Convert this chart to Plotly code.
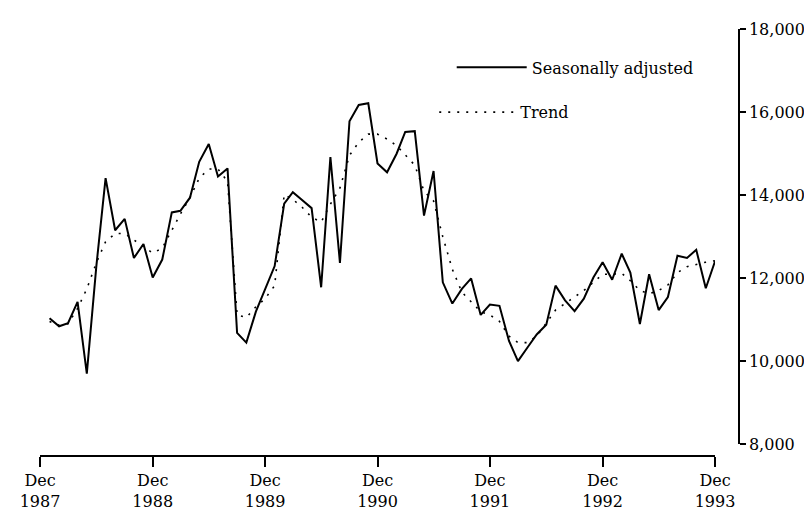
import pandas as pd
import plotly.graph_objects as go

# Monthly data, Jan 1988 - Dec 1993
months = pd.date_range("1988-01-01", periods=72, freq="MS")

seasonally_adjusted = [
    11035, 10840, 10917, 11427, 9700, 12290, 14407, 13153, 13427, 12486,
    12823, 12015, 12447, 13583, 13623, 13937, 14800, 15231, 14447, 14643,
    10682, 10447, 11192, 11741, 12290, 13796, 14071, 13874, 13686, 11780,
    14918, 12368, 15780, 16172, 16212, 14761, 14549, 14996, 15522, 15540,
    13506, 14580, 11898, 11388, 11741, 11992, 11114, 11365, 11333, 10486,
    10000, 10329, 10643, 10878, 11819, 11466, 11207, 11506, 12015, 12384,
    11961, 12588, 12134, 10894, 12094, 11231, 11545, 12541, 12486, 12682,
    11757, 12407,
]

trend = [
    10957, 10863, 10900, 11270, 11741, 12368, 12878, 13074, 13074, 12918,
    12760, 12604, 12722, 13153, 13545, 13937, 14407, 14627, 14627, 14329,
    11114, 11051, 11309, 11506, 11819, 14016, 13898, 13702, 13467, 13349,
    13780, 14172, 14957, 15271, 15467, 15467, 15349, 15192, 14957, 14721,
    14094, 13859, 12996, 12212, 11663, 11427, 11192, 11114, 10957, 10604,
    10447, 10447, 10604, 10917, 11231, 11388, 11545, 11702, 11898, 12094,
    12094, 12118, 11937, 11702, 11623, 11702, 11835, 12134, 12275, 12329,
    12384, 12420,
]

x_tick_dates = ["1987-12-01", "1988-12-01", "1989-12-01", "1990-12-01",
                "1991-12-01", "1992-12-01", "1993-12-01"]
x_tick_labels = ["Dec<br>1987", "Dec<br>1988", "Dec<br>1989", "Dec<br>1990",
                 "Dec<br>1991", "Dec<br>1992", "Dec<br>1993"]
y_ticks = [8000, 10000, 12000, 14000, 16000, 18000]
y_tick_labels = ["8,000", "10,000", "12,000", "14,000", "16,000", "18,000"]

FONT = dict(family="DejaVu Serif", size=16, color="black")

fig = go.Figure()
fig.add_trace(go.Scatter(
    x=months, y=seasonally_adjusted, mode="lines", name="Seasonally adjusted",
    line=dict(color="black", width=2.0), legend="legend"))
fig.add_trace(go.Scatter(
    x=months, y=trend, mode="lines", name="Trend",
    line=dict(color="black", width=1.6, dash="2px,7px"), legend="legend2"))

fig.update_layout(
    width=812, height=515,
    margin=dict(l=32, r=81, t=15, b=65),
    paper_bgcolor="white", plot_bgcolor="white",
    font=FONT,
    showlegend=True,
    legend=dict(x=0.589, y=0.91, xanchor="left", yanchor="middle",
                bgcolor="rgba(0,0,0,0)", itemwidth=70, font=FONT),
    legend2=dict(x=0.564, y=0.805, xanchor="left", yanchor="middle",
                 bgcolor="rgba(0,0,0,0)", itemwidth=76, font=FONT),
    xaxis=dict(domain=[0, 0.9657], anchor="free", position=0,
               range=["1987-12-01", "1993-12-01"],
               tickmode="array", tickvals=x_tick_dates, ticktext=x_tick_labels,
               showline=True, linecolor="black", linewidth=1.5,
               ticks="outside", ticklen=10, tickwidth=1.5, tickcolor="black",
               showgrid=False, zeroline=False),
    yaxis=dict(domain=[0.0276, 1], anchor="free", position=1, side="right",
               range=[8000, 18000],
               tickmode="array", tickvals=y_ticks, ticktext=y_tick_labels,
               showline=True, linecolor="black", linewidth=1.5,
               ticks="outside", ticklen=6, tickwidth=1.5, tickcolor="black",
               ticklabelstandoff=0,
               showgrid=False, zeroline=False),
)

fig.write_html("out.html")
